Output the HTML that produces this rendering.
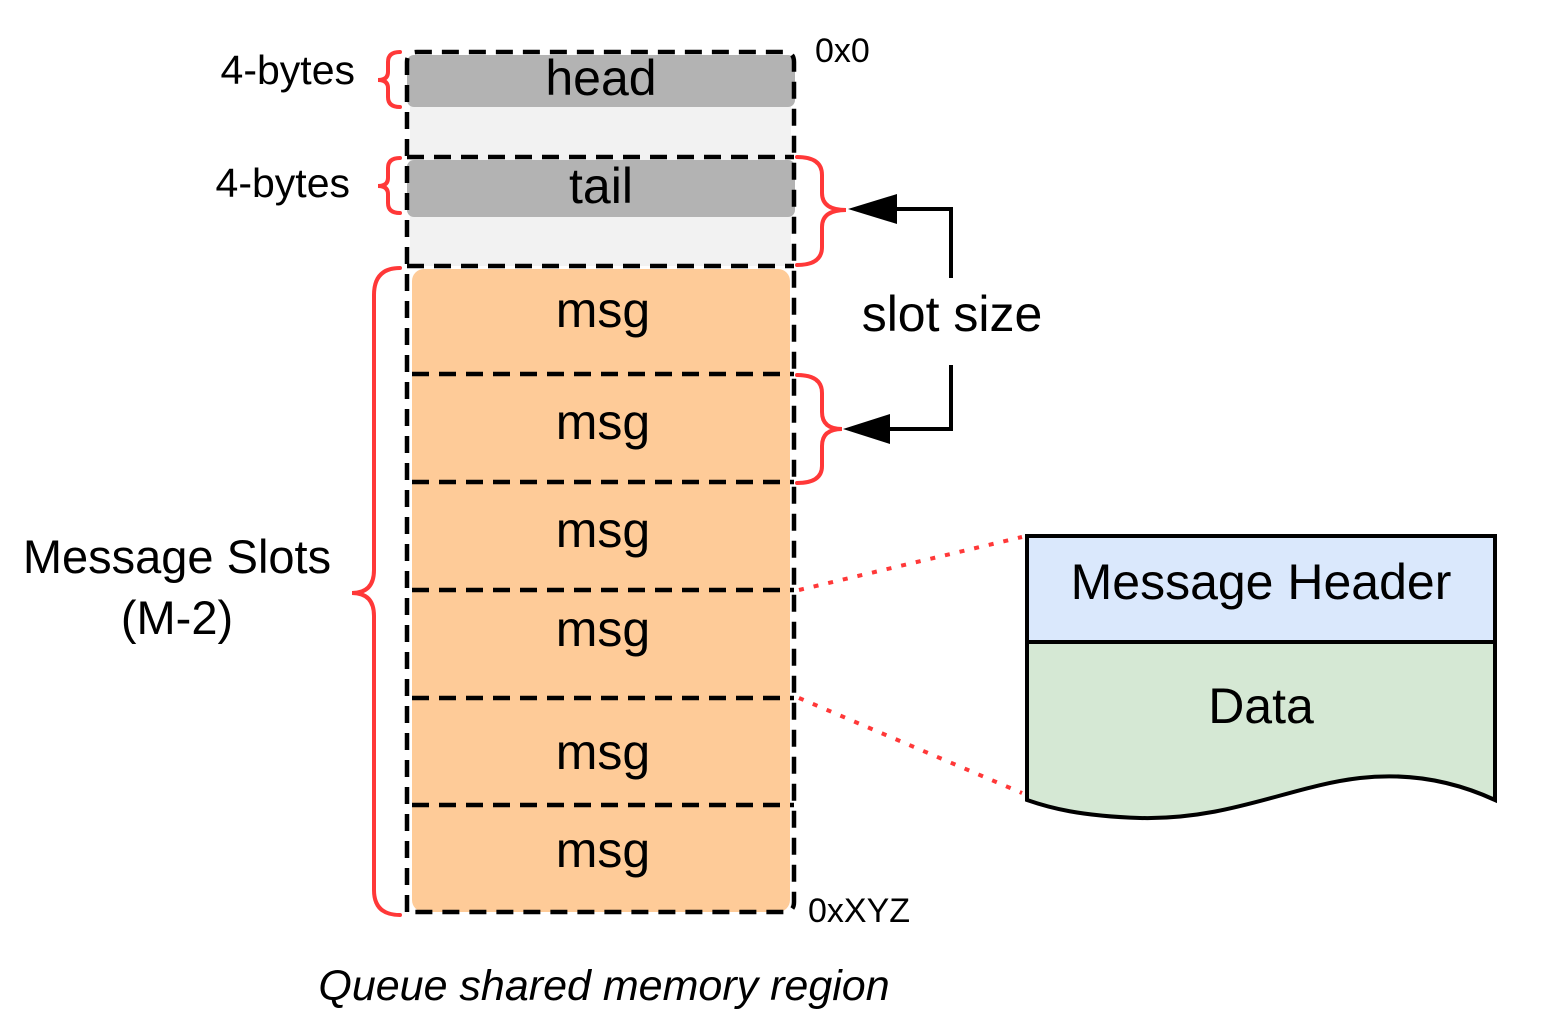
<!DOCTYPE html>
<html><head><style>
html,body{margin:0;padding:0;background:#fff}
svg{display:block}
text{font-family:"Liberation Sans",sans-serif;fill:#000}
</style></head><body>
<svg width="1553" height="1028" viewBox="0 0 1553 1028" xmlns="http://www.w3.org/2000/svg">
<rect x="410" y="100" width="381" height="166" fill="#f2f2f2" rx="4"/>
<rect x="407" y="55" width="388" height="52" rx="7" fill="#b3b3b3"/>
<rect x="407" y="160" width="388" height="57" rx="7" fill="#b3b3b3"/>
<rect x="412" y="269" width="378" height="643" rx="12" fill="#fecb98"/>
<g stroke="#000" stroke-width="4.5" fill="none" stroke-dasharray="17 10">
<path d="M407 912 V62 Q407 52 417 52 H784 Q794 52 794 62 V902 Q794 912 784 912 Z"/>
<line x1="407" y1="157" x2="794" y2="157"/>
<line x1="407" y1="266" x2="794" y2="266"/>
<line x1="412" y1="374" x2="794" y2="374"/>
<line x1="412" y1="482" x2="794" y2="482"/>
<line x1="412" y1="590" x2="794" y2="590"/>
<line x1="412" y1="698" x2="794" y2="698"/>
<line x1="412" y1="805" x2="794" y2="805"/>
</g>
<g font-size="50" text-anchor="middle">
<text x="601" y="95">head</text>
<text x="601" y="203">tail</text>
<text x="603" y="327">msg</text>
<text x="603" y="439">msg</text>
<text x="603" y="547">msg</text>
<text x="603" y="646">msg</text>
<text x="603" y="769">msg</text>
<text x="603" y="867">msg</text>
</g>
<g stroke="#ff3838" stroke-width="4" fill="none" stroke-linecap="round">
<path d="M400 52 Q388 52 388 62 V72 Q388 80 378 80 Q388 80 388 88 V97 Q388 107 400 107"/>
<path d="M400 158 Q388 158 388 168 V178 Q388 186 378 186 Q388 186 388 194 V203 Q388 213 400 213"/>
<path d="M400 268 Q374 268 374 295 V570 Q374 593 352 593 Q374 593 374 616 V890 Q374 915 400 915"/>
<path d="M797 157 Q822 157 822 175 V193 Q822 210 846 210 Q822 210 822 227 V247 Q822 265 797 265"/>
<path d="M797 375 Q822 375 822 393 V412 Q822 429 842 429 Q822 429 822 446 V466 Q822 483 797 483"/>
</g>
<g stroke="#000" stroke-width="4" fill="none">
<path d="M951 278 V209 H890"/>
<path d="M951 365 V429 H885"/>
</g>
<polygon points="848,209 897,194 897,224" fill="#000"/>
<polygon points="843,429 890,414 890,444" fill="#000"/>
<text x="952" y="331" font-size="50" text-anchor="middle">slot size</text>
<text x="355" y="84" font-size="41" text-anchor="end">4-bytes</text>
<text x="350" y="197" font-size="41" text-anchor="end">4-bytes</text>
<text x="177" y="573" font-size="47" text-anchor="middle">Message Slots</text>
<text x="177" y="634" font-size="47" text-anchor="middle">(M-2)</text>
<text x="815" y="62" font-size="34">0x0</text>
<text x="808" y="922" font-size="34">0xXYZ</text>
<text x="604" y="1000" font-size="43" font-style="italic" text-anchor="middle">Queue shared memory region</text>
<g stroke="#ff3838" stroke-width="4" stroke-dasharray="5 10" fill="none">
<line x1="799" y1="590" x2="1022" y2="537"/>
<line x1="799" y1="698" x2="1022" y2="793"/>
</g>
<rect x="1027" y="536" width="468" height="106" fill="#dae8fc" stroke="#000" stroke-width="4"/>
<path d="M1027 642 H1495 V800 Q1430 770 1360 778 C1290 786 1230 820 1140 818 C1080 816 1050 808 1027 800 Z" fill="#d5e8d4" stroke="#000" stroke-width="4"/>
<text x="1261" y="599" font-size="50" text-anchor="middle">Message Header</text>
<text x="1261" y="723" font-size="50" text-anchor="middle">Data</text>
</svg>
</body></html>
